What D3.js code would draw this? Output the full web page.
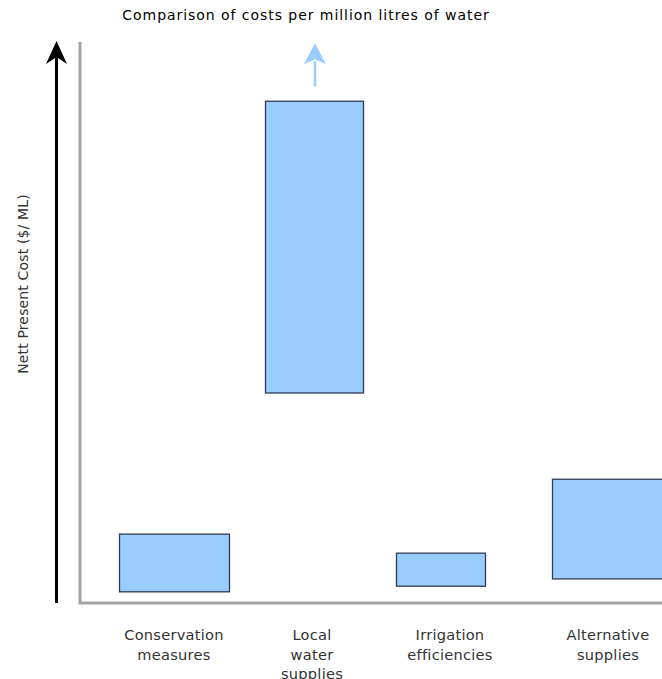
<!DOCTYPE html>
<html>
<head>
<meta charset="utf-8">
<script src="https://cdn.jsdelivr.net/npm/d3@7"></script>
<style>
html,body{margin:0;padding:0;background:#fff;}
svg{display:block;}
text{font-family:"DejaVu Sans",Verdana,sans-serif;}
</style>
</head>
<body>
<svg id="chart" width="662" height="679"></svg>
<script>
// ---- data ----
const categories = ["Conservation measures", "Local water supplies", "Irrigation efficiencies", "Alternative supplies"];
const labelLines = [["Conservation", "measures"], ["Local", "water", "supplies"], ["Irrigation", "efficiencies"], ["Alternative", "supplies"]];
const lowCost  = [2.0, 37.5, 3.0, 4.3];   // schematic NPC, no scale given
const highCost = [12.3, 89.6, 8.9, 22.1];
const openEnded = [false, true, false, false];
const title = "Comparison of costs per million litres of water";
const yTitle = "Nett Present Cost ($/ ML)";

// ---- layout ----
const W = 662, H = 679;
const axisX = 80, axisBottom = 603, axisTop = 42;
const labelCenters = [174, 312, 450, 608];
const barOffset = [-55, -47, -54, -56];
const barWidth = [110, 98, 89, 120];

const svg = d3.select("#chart");
const y = d3.scaleLinear().domain([0, 100]).range([axisBottom, 43]);
const x = d3.scaleOrdinal().domain(categories).range(labelCenters);

const data = categories.map((c, i) => ({c, i, lo: lowCost[i], hi: highCost[i], open: openEnded[i], lines: labelLines[i]}));

// title
svg.append("text").attr("x", 306).attr("y", 20).attr("text-anchor", "middle")
  .attr("font-size", 14).attr("letter-spacing", 0.95).attr("fill", "#000").text(title);

// y label
svg.append("text").attr("transform", `translate(28,${284}) rotate(-90)`)
  .attr("text-anchor", "middle").attr("font-size", 14).attr("letter-spacing", 0.15)
  .attr("fill", "#333").text(yTitle);

// black arrow
svg.append("line").attr("x1", 56.5).attr("x2", 56.5).attr("y1", axisBottom).attr("y2", 55)
  .attr("stroke", "#000").attr("stroke-width", 3);
svg.append("path").attr("d", `M56.5,41 L67,64 L56.5,57 L46,64 Z`).attr("fill", "#000");

// grey axes
svg.append("path").attr("d", `M${axisX},${axisTop} V${axisBottom} H${W + 2}`)
  .attr("fill", "none").attr("stroke", "#a3a3a3").attr("stroke-width", 3);

// bars
svg.selectAll("rect.bar").data(data).join("rect").attr("class", "bar")
  .attr("x", d => x(d.c) + barOffset[d.i] + 0.5)
  .attr("width", d => barWidth[d.i])
  .attr("y", d => y(d.hi))
  .attr("height", d => y(d.lo) - y(d.hi))
  .attr("fill", "#99ccff").attr("stroke", "#2e3d4f").attr("stroke-width", 1.3);

// open-ended arrow
data.filter(d => d.open).forEach(d => {
  const cx = x(d.c) + barOffset[d.i] + barWidth[d.i] / 2 + 1;
  const top = y(d.hi);
  svg.append("line").attr("x1", cx).attr("x2", cx).attr("y1", top - 15).attr("y2", top - 40)
    .attr("stroke", "#99ccff").attr("stroke-width", 2.5);
  svg.append("path").attr("d", `M${cx},${top - 58} L${cx + 11},${top - 37} L${cx},${top - 42} L${cx - 11},${top - 37} Z`)
    .attr("fill", "#99ccff");
});

// category labels
const lab = svg.selectAll("text.cat").data(data).join("text").attr("class", "cat")
  .attr("text-anchor", "middle").attr("font-size", 14.6).attr("letter-spacing", 0.25).attr("fill", "#333");
lab.selectAll("tspan").data(d => d.lines.map(l => ({l, cx: x(d.c)}))).join("tspan")
  .attr("x", t => t.cx).attr("y", (t, j) => 640 + j * 19.5).text(t => t.l);
</script>
</body>
</html>
